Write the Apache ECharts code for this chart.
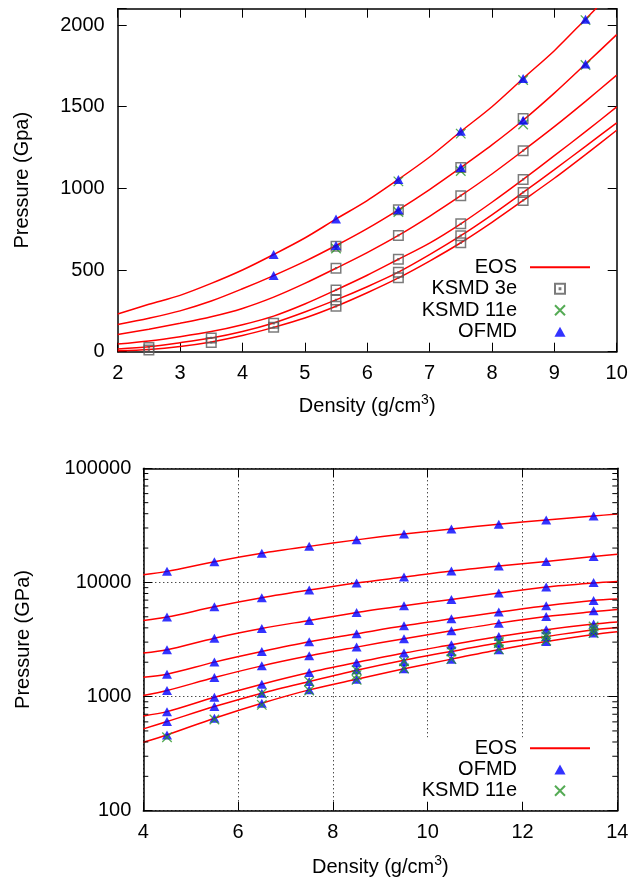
<!DOCTYPE html>
<html><head><meta charset="utf-8">
<script src="https://cdn.jsdelivr.net/npm/echarts@6.0.0/dist/echarts.min.js"></script>
<style>html,body{margin:0;padding:0;background:#fff}#c{width:633px;height:880px}</style>
</head><body><div id="c"></div>
<script>
// ---------- Top panel data ----------
const topDensity = [2,2.5,3,3.5,4,4.5,5,5.5,6,6.5,7,7.5,8,8.5,9,9.5,10];
const topEos1 = [231,290,345,418,500,595,696,812,925,1055,1192,1348,1500,1673,1843,2036,2230];
const topEos2 = [166,205,250,310,385,466,553,650,754,869,993,1127,1266,1417,1583,1761,1941];
const topEos3 = [106,138,174,214,265,334,418,511,607,712,829,955,1088,1231,1378,1533,1693];
const topEos4 = [47,66,92,123,165,218,292,378,468,566,665,783,915,1055,1200,1347,1499];
const topEos5 = [17,30,55,84,124,176,243,317,398,487,594,710,838,975,1115,1257,1401];
const topEos6 = [6,14,32,60,99,149,206,278,361,452,555,667,792,926,1062,1207,1356];
const topKsmd3e = [[2.5,26],[2.5,10],[3.5,84],[3.5,57],[4.5,174],[4.5,149],
  [5.5,645],[5.5,511],[5.5,378],[5.5,317],[5.5,278],
  [6.5,869],[6.5,712],[6.5,566],[6.5,487],[6.5,452],
  [7.5,1127],[7.5,955],[7.5,783],[7.5,710],[7.5,667],
  [8.5,1427],[8.5,1231],[8.5,1055],[8.5,975],[8.5,926]];
const topKsmd11e = [[5.5,632],[6.5,1043],[6.5,855],[7.5,1335],[7.5,1106],[8.5,1663],[8.5,1391],[9.5,2030],[9.5,1755]];
const topOfmd = [[4.5,595],[4.5,466],[5.5,812],[5.5,650],[6.5,1055],[6.5,869],[7.5,1350],[7.5,1127],[8.5,1673],[8.5,1417],[9.5,2036],[9.5,1761]];
const topXTicks = [2,3,4,5,6,7,8,9,10];
const topYTicks = [0,500,1000,1500,2000];

// ---------- Bottom panel data ----------
const botDensity = [4,4.5,5.5,6.5,7.5,8.5,9.5,10.5,11.5,12.5,13.5,14];
const botEos1 = [11680,12500,15200,18000,20700,23600,26600,29400,32300,35300,38200,39800];
const botEos2 = [4645,4970,6120,7340,8570,9880,11150,12590,13930,15290,16900,17700];
const botEos3 = [2404,2570,3250,3950,4645,5460,6250,7100,8070,9120,9900,10200];
const botEos4 = [1479,1572,2004,2480,3020,3548,4170,4800,5500,6250,6950,7150];
const botEos5 = [1020,1129,1468,1858,2275,2712,3214,3770,4400,5030,5550,5800];
const botEos6 = [677,738,987,1284,1625,1987,2404,2844,3360,3850,4315,4500];
const botEos7 = [521,604,817,1071,1355,1700,2080,2484,2940,3360,3850,4030];
const botEos8 = [398,461,646,875,1145,1420,1750,2128,2570,3034,3500,3700];
const ofmdDensity = [4.5,5.5,6.5,7.5,8.5,9.5,10.5,11.5,12.5,13.5];
const botOfmd1 = [12500,15200,18000,20700,23600,26600,29400,32300,35300,38200];
const botOfmd2 = [4970,6120,7340,8570,9880,11150,12590,13930,15290,16900];
const botOfmd3 = [2570,3250,3950,4645,5460,6250,7100,8070,9120,10000];
const botOfmd4 = [1572,2004,2480,3020,3548,4170,4800,5500,6250,6950];
const botOfmd5 = [1129,1468,1858,2275,2712,3214,3770,4400,5030,5650];
const botOfmd6 = [738,987,1284,1625,1987,2404,2844,3360,3850,4315];
const botOfmd7 = [604,817,1071,1355,1715,2028,2484,2940,3360,3850];
const botOfmd8 = [461,646,875,1145,1420,1750,2128,2570,3034,3600];
const botKsmd11e = [[4.5,440],[5.5,630],[6.5,1071],[6.5,845],[7.5,1355],[7.5,1130],
  [8.5,1700],[8.5,1540],[8.5,1400],[9.5,2040],[9.5,1760],[10.5,2484],[10.5,2128],
  [11.5,3035],[11.5,2940],[11.5,2590],[12.5,3526],[12.5,3350],[12.5,3100],[13.5,4110],[13.5,3850],[13.5,3600]];
const botXTicks = [4,6,8,10,12,14];
const botYTicks = [100,1000,10000,100000];
const logMinorTicks = [200,300,400,500,600,700,800,900,2000,3000,4000,5000,6000,7000,8000,9000,20000,30000,40000,50000,60000,70000,80000,90000];

// ---------- styles ----------
const FONT = 'Liberation Sans, Arial, Helvetica, sans-serif';
const RED = '#ff0000', BLUE = '#0000ff', GREEN = '#2a962a', GREY = '#5a5a5a';
const SQ = 'path://M0,0H10V10H0Z M4.6,4.6H5.4V5.4H4.6Z';
const CROSS = 'path://M0,0L10,10M10,0L0,10';
const TRI = 'path://M5,0L10,9L0,9Z';
const axisLine = {show:true, onZero:false, lineStyle:{color:'#000', width:1.5}};
const tick = {show:true, inside:true, length:9, lineStyle:{color:'#000', width:1}};
const lbl = {fontSize:20, fontFamily:FONT, color:'#000'};

const pairs = (xs, ys) => xs.map((x,i)=>[x, ys[i]]);
function eos(xs, ys, xi, yi){
  return {name:'EOS', type:'line', xAxisIndex:xi, yAxisIndex:yi, data:pairs(xs,ys),
    smooth:0.3, symbol:'none', lineStyle:{color:RED, width:1.5}, itemStyle:{color:RED}, z:2, silent:true};
}
const series = [];
[topEos1,topEos2,topEos3,topEos4,topEos5,topEos6].forEach(a=>series.push(eos(topDensity,a,0,0)));
series.push({name:'KSMD 3e', type:'scatter', xAxisIndex:0, yAxisIndex:0, data:topKsmd3e, symbol:SQ, symbolSize:9.5,
  itemStyle:{color:'rgba(0,0,0,0)', borderColor:GREY, borderWidth:1.5}, z:3});
series.push({name:'KSMD 11e', type:'scatter', xAxisIndex:0, yAxisIndex:0, data:topKsmd11e, symbol:CROSS, symbolSize:9.5,
  itemStyle:{color:'rgba(0,0,0,0)', borderColor:GREEN, borderWidth:1.3}, z:4});
series.push({name:'OFMD', type:'scatter', xAxisIndex:0, yAxisIndex:0, data:topOfmd, symbol:TRI, symbolSize:[10,9],
  itemStyle:{color:BLUE}, z:5});
[botEos1,botEos2,botEos3,botEos4,botEos5,botEos6,botEos7,botEos8].forEach(a=>series.push(eos(botDensity,a,2,2)));
const ofmdAll = [];
[botOfmd1,botOfmd2,botOfmd3,botOfmd4,botOfmd5,botOfmd6,botOfmd7,botOfmd8].forEach(a=>pairs(ofmdDensity,a).forEach(p=>ofmdAll.push(p)));
series.push({name:'OFMD', type:'scatter', xAxisIndex:2, yAxisIndex:2, data:ofmdAll, symbol:TRI, symbolSize:[10,9],
  itemStyle:{color:BLUE}, z:4});
series.push({name:'KSMD 11e', type:'scatter', xAxisIndex:2, yAxisIndex:2, data:botKsmd11e, symbol:CROSS, symbolSize:9.5,
  itemStyle:{color:'rgba(0,0,0,0)', borderColor:GREEN, borderWidth:1.3}, z:5});
series.push({type:'custom', xAxisIndex:2, yAxisIndex:2, silent:true, clip:false, z:6,
  data: logMinorTicks.map(v=>[botXTicks[0], v]),
  renderItem(params, api){
    const v = api.value(1);
    const p = api.coord([botXTicks[0], v]);
    const q = api.coord([botXTicks[botXTicks.length-1], v]);
    return {type:'group', children:[
      {type:'line', shape:{x1:p[0], y1:p[1], x2:p[0]+5, y2:p[1]}, style:{stroke:'#000', lineWidth:1}},
      {type:'line', shape:{x1:q[0]-5, y1:q[1], x2:q[0], y2:q[1]}, style:{stroke:'#000', lineWidth:1}}
    ]};
  }});

const nameStyle = {fontSize:20, fontFamily:FONT, color:'#000', lineHeight:22,
  rich:{sup:{fontSize:14, fontFamily:FONT, color:'#000', lineHeight:14, verticalAlign:'bottom', padding:[0,0,11,0]}}};
const dotted = {show:true, lineStyle:{color:'#000', width:1, type:[1,3]}};
const legendText = {fontSize:20, fontFamily:FONT, color:'#000', width:104, align:'right', padding:[0,8,0,0]};
const eosLegend = {name:'EOS', itemStyle:{opacity:0}};

const option = {
  animation:false,
  backgroundColor:'#fff',
  grid:[
    {left:117.7, top:8.7, width:499, height:343},
    {left:143.3, top:468.3, width:474, height:342.4}
  ],
  xAxis:[
    {gridIndex:0, type:'value', min:topXTicks[0], max:topXTicks[topXTicks.length-1], interval:1, position:'bottom',
     axisLine, axisTick:tick, axisLabel:Object.assign({margin:12}, lbl), splitLine:{show:false},
     name:'Density (g/cm{sup|3})', nameLocation:'middle', nameGap:44, nameTextStyle:nameStyle},
    {gridIndex:0, type:'value', min:topXTicks[0], max:topXTicks[topXTicks.length-1], interval:1, position:'top',
     axisLine, axisTick:tick, axisLabel:{show:false}, splitLine:{show:false}},
    {gridIndex:1, type:'value', min:botXTicks[0], max:botXTicks[botXTicks.length-1], interval:2, position:'bottom',
     axisLine, axisTick:tick, axisLabel:Object.assign({margin:12}, lbl), splitLine:dotted,
     name:'Density (g/cm{sup|3})', nameLocation:'middle', nameGap:46, nameTextStyle:nameStyle},
    {gridIndex:1, type:'value', min:botXTicks[0], max:botXTicks[botXTicks.length-1], interval:2, position:'top',
     axisLine, axisTick:tick, axisLabel:{show:false}, splitLine:{show:false}}
  ],
  yAxis:[
    {gridIndex:0, type:'value', min:0, max:2100, interval:500, position:'left',
     axisLine, axisTick:tick, splitLine:{show:false},
     axisLabel:Object.assign({margin:13, formatter:v=>topYTicks.includes(v)?String(v):''}, lbl),
     name:'Pressure (Gpa)', nameLocation:'middle', nameGap:85, nameTextStyle:{fontSize:20, fontFamily:FONT, color:'#000'}},
    {gridIndex:0, type:'value', min:0, max:2100, interval:500, position:'right',
     axisLine, axisTick:tick, axisLabel:{show:false}, splitLine:{show:false}},
    {gridIndex:1, type:'log', logBase:10, min:botYTicks[0], max:botYTicks[botYTicks.length-1], position:'left',
     axisLine, axisTick:tick, splitLine:dotted,
     axisLabel:Object.assign({margin:12, formatter:v=>String(Math.round(v))}, lbl),
     name:'Pressure (GPa)', nameLocation:'middle', nameGap:110, nameTextStyle:{fontSize:20, fontFamily:FONT, color:'#000'}},
    {gridIndex:1, type:'log', logBase:10, min:botYTicks[0], max:botYTicks[botYTicks.length-1], position:'right',
     axisLine, axisTick:tick, axisLabel:{show:false}, splitLine:{show:false}}
  ],
  legend:[
    {orient:'vertical', align:'right', right:42, top:256.5, padding:0, itemGap:0, itemWidth:60, itemHeight:10,
     symbolKeepAspect:true, selectedMode:false, data:[eosLegend,'KSMD 3e','KSMD 11e','OFMD'],
     textStyle:Object.assign({lineHeight:21.5}, legendText)},
    {orient:'vertical', align:'right', right:32, top:737.5, padding:[0,10,0,10], itemGap:0, itemWidth:60, itemHeight:10,
     symbolKeepAspect:true, backgroundColor:'#fff', selectedMode:false, data:[eosLegend,'OFMD','KSMD 11e'],
     textStyle:Object.assign({lineHeight:21.3}, legendText)}
  ],
  series
};
const chart = echarts.init(document.getElementById('c'), null, {renderer:'canvas'});
chart.setOption(option);
</script></body></html>
